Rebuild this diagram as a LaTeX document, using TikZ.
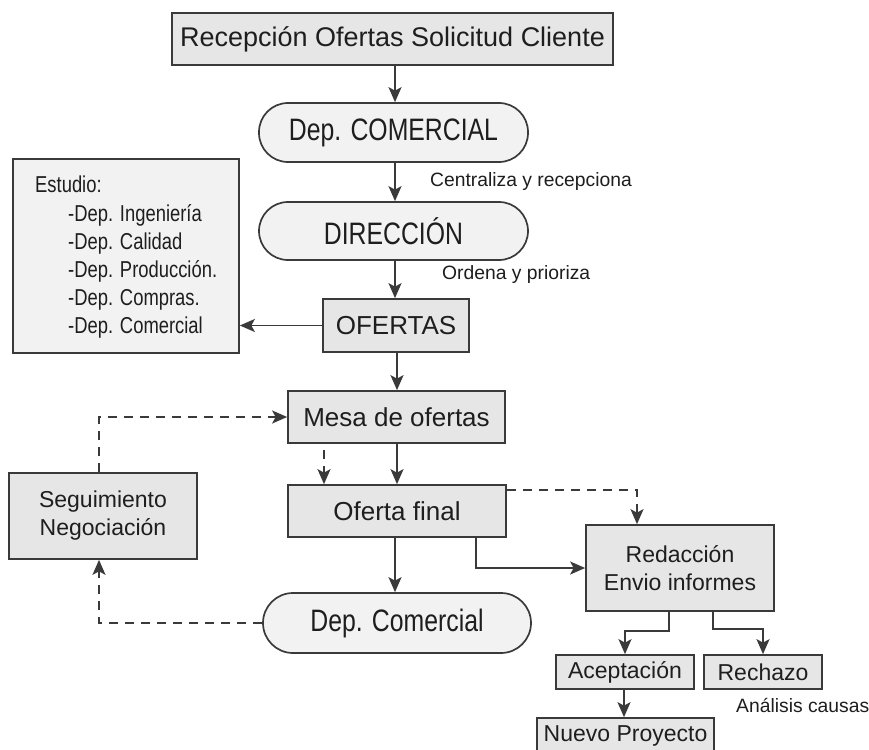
\documentclass[tikz,border=0pt]{standalone}
\usepackage{fontspec}
\setmainfont{Liberation Sans}
\newfontfamily\narrowsans{Liberation Sans}[FakeStretch=0.8]
\usetikzlibrary{arrows.meta}
\definecolor{edge}{HTML}{3A3A3A}
\definecolor{boxfill}{HTML}{E6E6E6}
\definecolor{softfill}{HTML}{F2F2F2}
\definecolor{ink}{HTML}{1E1E1E}

\begin{document}
\begin{tikzpicture}[x=1pt,y=-1pt,
  box/.style={draw=edge, line width=1.7pt, fill=boxfill, text=ink, inner sep=0pt, align=center},
  pill/.style={box, fill=softfill, rounded corners=29pt},
  titlefont/.style={font=\fontsize{27}{32}\selectfont},
  midfont/.style={font=\fontsize{26}{31}\selectfont},
  smallfont/.style={font=\fontsize{23}{28}\selectfont},
  pillfont/.style={font=\narrowsans\fontsize{31}{36}\selectfont},
  listfont/.style={font=\narrowsans\fontsize{23}{28}\selectfont},
  listline/.style={listfont, text=ink, inner sep=0pt, anchor=base west},
  note/.style={text=ink, inner sep=0pt, font=\fontsize{19.3}{23}\selectfont},
  arr/.style={draw=edge, line width=1.7pt, -{Stealth[length=15pt,width=13pt,inset=3.5pt]}},
  darr/.style={arr, dash pattern=on 9pt off 7pt}
]
\clip (0,0) rectangle (869,749);
\fill[white] (0,0) rectangle (869,749);

% main column
\node[box, titlefont, minimum width=441pt, minimum height=52pt] (rec) at (392.5,39) {Recepción Ofertas Solicitud Cliente};
\node[pill, pillfont, minimum width=269pt, minimum height=59pt] (dcom) at (393.5,132.5) {Dep. COMERCIAL};
\node[pill, pillfont, minimum width=269pt, minimum height=58pt] (dir) at (393.5,231) {DIRECCIÓN};
\node[box, midfont, minimum width=146pt, minimum height=53pt] (ofe) at (396,325.5) {OFERTAS};
\node[box, midfont, minimum width=217pt, minimum height=52pt] (mesa) at (396.5,417) {Mesa de ofertas};
\node[box, midfont, minimum width=218pt, minimum height=52pt] (ofin) at (397,511) {Oferta final};
\node[pill, pillfont, minimum width=268pt, minimum height=60pt, rounded corners=30pt] (dcom2) at (397,623) {Dep. Comercial};

% study box
\node[box, fill=softfill, minimum width=226pt, minimum height=194pt] (est) at (126,256) {};
\node[listline] (estt) at (35,192) {Estudio:};
\node[listline] (est1) at (68,221) {-Dep. Ingeniería};
\node[listline] (est2) at (68,249) {-Dep. Calidad};
\node[listline] (est3) at (68,277) {-Dep. Producción.};
\node[listline] (est4) at (68,305) {-Dep. Compras.};
\node[listline] (est5) at (68,333) {-Dep. Comercial};

% side boxes
\node[box, smallfont, minimum width=188pt, minimum height=86pt] (seg) at (103,516) {Seguimiento\\Negociación};
\node[box, smallfont, minimum width=188pt, minimum height=86pt] (red) at (680,568) {Redacción\\Envio informes};
\node[box, smallfont, minimum width=138pt, minimum height=34pt] (acep) at (625,672) {Aceptación};
\node[box, smallfont, minimum width=118pt, minimum height=34pt] (rech) at (763,672) {Rechazo};
\node[box, smallfont, minimum width=177pt, minimum height=36pt] (nuevo) at (625.5,736) {Nuevo Proyecto};

% notes
\node[note, anchor=west] (n1) at (430,182) {Centraliza y recepciona};
\node[note, anchor=west] (n2) at (442,275) {Ordena y prioriza};
\node[note, anchor=west] (n3) at (736,705) {Análisis causas};

% connectors
\draw[arr] (rec.south -| 395,0) -- (dcom.north -| 395,0);
\draw[arr] (dcom.south -| 395,0) -- (dir.north -| 395,0);
\draw[arr] (dir.south -| 395,0) -- (ofe.north -| 395,0);
\draw[arr] (ofe.west) -- (ofe.west -| est.east);
\draw[arr] (ofe.south -| 397,0) -- (mesa.north -| 397,0);
\draw[arr] (mesa.south -| 397,0) -- (ofin.north -| 397,0);
\coordinate (dd) at (324,450);
\draw[darr] (dd) -- (dd |- ofin.north);
\draw[arr] (ofin.south -| 395,0) -- (dcom2.north -| 395,0);
\draw[darr] ([xshift=-4pt]seg.north) |- (mesa.west);
\draw[darr] (dcom2.west) -| ([xshift=-4pt]seg.south);
\draw[arr] ([xshift=79pt]ofin.south) |- (red.west);
\draw[darr] ([yshift=-6pt]ofin.north east) -| ([xshift=-43pt]red.north);
\draw[arr] ([xshift=-11pt]red.south) -- ++(0,19) -| (acep.north);
\draw[arr] ([xshift=33pt]red.south) -- ++(0,17) -| (rech.north);
\draw[arr] (acep.south -| 624,0) -- (nuevo.north -| 624,0);
\end{tikzpicture}
\end{document}
